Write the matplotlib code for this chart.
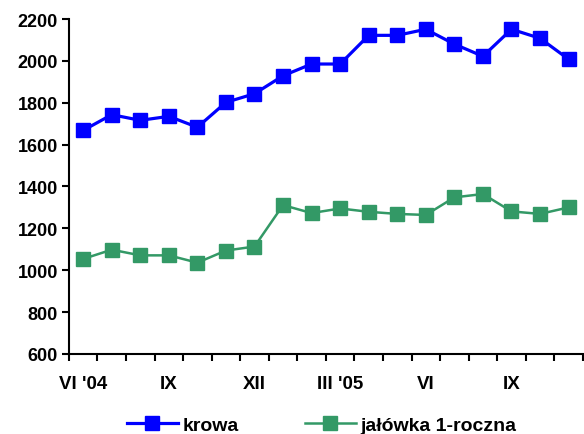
import numpy as np
import matplotlib
matplotlib.use("Agg")
import matplotlib.pyplot as plt

plt.rcParams['font.family'] = ['Liberation Sans', 'DejaVu Sans']
plt.rcParams['font.weight'] = 'bold'

months = ['VI \'04', '', '', 'IX', '', '', 'XII', '', '', 'III \'05', '', '',
          'VI', '', '', 'IX', '', '']
krowa = [1668, 1743, 1716, 1735, 1683, 1802, 1843, 1929, 1985, 1985,
         2122, 2122, 2151, 2080, 2022, 2151, 2108, 2008]
jalowka = [1054, 1098, 1071, 1071, 1036, 1094, 1113, 1311, 1273, 1295,
           1279, 1269, 1264, 1348, 1364, 1281, 1269, 1300]

x = np.arange(len(months))

fig = plt.figure(figsize=(5.84, 4.35), dpi=100)
ax = fig.add_axes([0.118, 0.184, 0.880, 0.770])

ax.plot(x, krowa, color='#0000FF', lw=2.3, marker='s', ms=9.5,
        label='krowa')
ax.plot(x, jalowka, color='#339966', lw=1.8, marker='s', ms=9.5,
        label='jałówka 1-roczna')

ax.set_xlim(-0.5, len(months) - 0.5)
ax.set_ylim(600, 2200)
ax.set_yticks(np.arange(600, 2201, 200))

# labels every third month, tick marks between categories
lab_idx = [i for i, m in enumerate(months) if m]
ax.set_xticks(lab_idx)
ax.set_xticklabels([months[i] for i in lab_idx])
ax.set_xticks(np.arange(-0.5, len(months) + 0.5, 1), minor=True)
ax.tick_params(axis='x', which='major', length=0, pad=15, labelsize=13.5)
ax.tick_params(axis='x', which='minor', length=5, width=1.5, direction='out')
ax.tick_params(axis='y', length=5, width=1.5, direction='out', labelsize=13, pad=3)

for s in ['top', 'right']:
    ax.spines[s].set_visible(False)
for s in ['left', 'bottom']:
    ax.spines[s].set_linewidth(1.5)

fig.legend(loc='lower center', bbox_to_anchor=(0.551, -0.022), ncol=2,
           frameon=False, fontsize=14, handlelength=2.6, columnspacing=3.4,
           handletextpad=0.25, borderaxespad=0.1)

plt.savefig("out.png", dpi=100)
